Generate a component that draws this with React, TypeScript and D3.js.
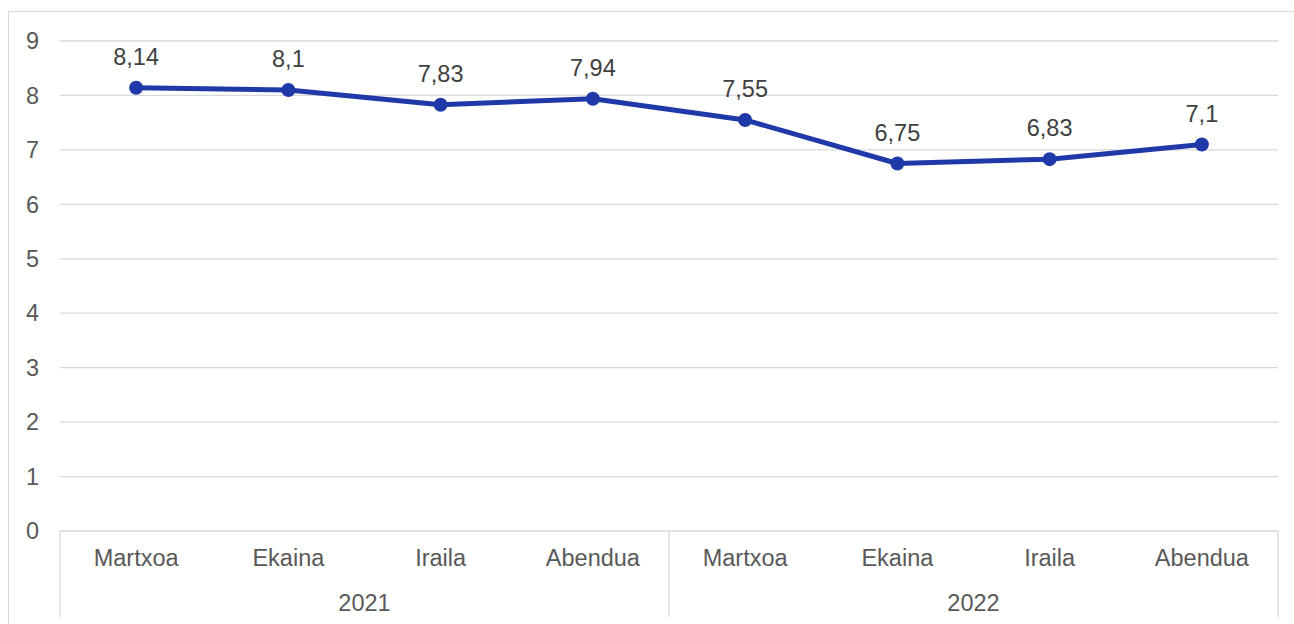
import React from "react";
import * as d3 from "d3";

const months = ["Martxoa", "Ekaina", "Iraila", "Abendua", "Martxoa", "Ekaina", "Iraila", "Abendua"];
const years = ["2021", "2022"];
const values = [8.14, 8.1, 7.83, 7.94, 7.55, 6.75, 6.83, 7.1];
const yTicks = [0, 1, 2, 3, 4, 5, 6, 7, 8, 9];

const W = 1294;
const H = 624;
const left = 60;
const right = 1278;
const top = 41;
const bottom = 531;
const FONT = "'Liberation Sans', Arial, sans-serif";
const FS = 23.5;

export default function App() {
  const idx = months.map((_, i) => i);
  const x = d3.scaleBand<number>().domain(idx).range([left, right]);
  const y = d3.scaleLinear().domain([0, 9]).range([bottom, top]);
  const cx = (i: number) => (x(i) as number) + x.bandwidth() / 2;
  const line = d3
    .line<number>()
    .x((_, i) => cx(i))
    .y((d) => y(d));
  const perYear = months.length / years.length;
  const fmt = (v: number) => String(v).replace(".", ",");

  return (
    <svg
      width={W}
      height={H}
      style={{ position: "absolute", left: 0, top: 0, background: "#fff" }}
      fontFamily={FONT}
    >
      <rect x={0} y={0} width={W} height={H} fill="#fff" />
      <rect x={8.5} y={11.5} width={W + 10} height={H + 10} fill="none" stroke="#d9d9d9" strokeWidth={1} />
      {yTicks.map((t) => (
        <g key={t}>
          <line x1={left} x2={right} y1={y(t)} y2={y(t)} stroke="#d9d9d9" strokeWidth={1.3} />
          <text x={39} y={y(t)} dy="0.35em" textAnchor="end" fontSize={FS} fill="#595959">
            {t}
          </text>
        </g>
      ))}
      {years.map((yr, k) => {
        const x0 = x(k * perYear) as number;
        const x1 = (x((k + 1) * perYear - 1) as number) + x.bandwidth();
        return (
          <g key={yr}>
            <line x1={x0} x2={x0} y1={bottom} y2={617} stroke="#d9d9d9" strokeWidth={1.3} />
            {k === years.length - 1 && (
              <line x1={x1} x2={x1} y1={bottom} y2={617} stroke="#d9d9d9" strokeWidth={1.3} />
            )}
            <text x={(x0 + x1) / 2} y={603} dy="0.35em" textAnchor="middle" fontSize={FS} fill="#595959">
              {yr}
            </text>
          </g>
        );
      })}
      {months.map((m, i) => (
        <text key={i} x={cx(i)} y={558} dy="0.35em" textAnchor="middle" fontSize={FS} fill="#595959">
          {m}
        </text>
      ))}
      <path d={line(values) || ""} fill="none" stroke="#1f3aa8" strokeWidth={5} strokeLinejoin="round" />
      {values.map((v, i) => (
        <g key={i}>
          <circle cx={cx(i)} cy={y(v)} r={7} fill="#1f3aa8" />
          <text x={cx(i)} y={y(v) - 31} dy="0.35em" textAnchor="middle" fontSize={FS} fill="#404040">
            {fmt(v)}
          </text>
        </g>
      ))}
    </svg>
  );
}
